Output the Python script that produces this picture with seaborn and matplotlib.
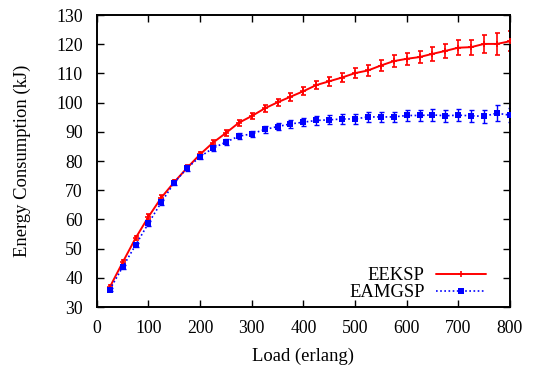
import numpy as np
import pandas as pd
import matplotlib
matplotlib.use("Agg")
import matplotlib.pyplot as plt
import seaborn as sns

# Load values
load = [25, 50, 75, 100, 125, 150, 175, 200, 225, 250, 275, 300, 325, 350, 375, 400,
        425, 450, 475, 500, 525, 550, 575, 600, 625, 650, 675, 700, 725, 750, 775, 800]

eeksp = [36.8, 45.3, 53.6, 60.9, 67.5, 72.8, 77.7, 82.3, 86.3, 89.6, 93.1, 95.4,
         98.0, 100.1, 102.0, 103.9, 106.0, 107.3, 108.6, 110.1, 111.0, 112.7, 114.2,
         115.0, 115.6, 116.7, 117.7, 118.8, 119.0, 120.1, 120.1, 121.0]
eeksp_err = [0.6, 0.7, 0.7, 0.8, 0.8, 0.8, 0.8, 0.9, 0.9, 1.0, 1.1, 1.1,
             1.2, 1.2, 1.3, 1.4, 1.5, 1.5, 1.6, 1.7, 1.8, 1.9, 2.0,
             2.1, 2.2, 2.3, 2.4, 2.5, 2.6, 3.1, 3.7, 3.4]

eamgsp = [36.0, 43.7, 51.2, 58.7, 65.9, 72.6, 77.6, 81.5, 84.4, 86.5, 88.5, 89.3,
          90.8, 91.8, 92.7, 93.3, 93.9, 94.1, 94.4, 94.4, 95.1, 95.1, 95.1,
          95.6, 95.6, 95.8, 95.5, 95.7, 95.5, 95.3, 96.4, 95.7]
eamgsp_err = [0.6, 0.7, 0.7, 0.8, 0.8, 0.8, 0.9, 0.9, 1.0, 1.0, 1.1, 1.1,
              1.2, 1.3, 1.3, 1.4, 1.5, 1.5, 1.6, 1.6, 1.7, 1.7, 1.8,
              1.8, 1.9, 2.0, 2.0, 2.1, 2.1, 2.2, 2.8, 2.4]

x_ticks = [0, 100, 200, 300, 400, 500, 600, 700, 800]
y_ticks = [30, 40, 50, 60, 70, 80, 90, 100, 110, 120, 130]

sns.set_style("ticks")
plt.rcParams['font.family'] = ['Liberation Serif', 'DejaVu Serif']
plt.rcParams['text.color'] = 'black'
plt.rcParams['axes.labelcolor'] = 'black'

df = pd.DataFrame({"load": load, "eeksp": eeksp, "eamgsp": eamgsp})

fig = plt.figure(figsize=(5.35, 3.66), dpi=100)
ax = fig.add_axes([0.181, 0.161, 0.772, 0.798])

red = "#ff0000"
blue = "#0000ff"

# error bars first, lines on top
ax.errorbar(load, eeksp, yerr=eeksp_err, fmt="none", ecolor=red,
            elinewidth=1.2, capsize=1.8, capthick=1.2, zorder=2)
ax.errorbar(load, eamgsp, yerr=eamgsp_err, fmt="none", ecolor=blue,
            elinewidth=1.0, capsize=1.8, capthick=1.0, linestyle=":", zorder=2)

# seaborn defaults marker edges to white, so set them explicitly
sns.lineplot(data=df, x="load", y="eeksp", ax=ax, color=red, linewidth=1.4,
             linestyle="-", marker="+", markersize=5, markeredgewidth=1.2,
             markeredgecolor=red, label="EEKSP", zorder=3)
sns.lineplot(data=df, x="load", y="eamgsp", ax=ax, color=blue, linewidth=1.2,
             linestyle=(0, (1, 1.5)), marker="s", markersize=4.3, markeredgewidth=0,
             markeredgecolor=blue, label="EAMGSP", zorder=3)

ax.set_xlim(0, 800)
ax.set_ylim(30, 130)
ax.set_xticks(x_ticks)
ax.set_yticks(y_ticks)
ax.tick_params(axis="both", direction="in", top=True, right=True, length=5, width=1,
               labelsize=12.8, colors="black")
ax.tick_params(axis="y", pad=10)
ax.tick_params(axis="x", pad=9)
for s in ax.spines.values():
    s.set_visible(True)
    s.set_linewidth(1.4)
    s.set_color("black")

ax.set_xlabel("Load (erlang)", fontsize=13.4, labelpad=8)
ax.set_ylabel("Energy Consumption (kJ)", fontsize=13.4, labelpad=18)

leg = ax.legend(loc="lower right", frameon=False, markerfirst=False, fontsize=13.4,
                handlelength=2.7, handletextpad=0.6, labelspacing=0.0,
                borderaxespad=0.1, borderpad=0.2)
leg.set_bbox_to_anchor((0.956, 0.0), transform=ax.transAxes)

fig.savefig("out.png", dpi=100)
